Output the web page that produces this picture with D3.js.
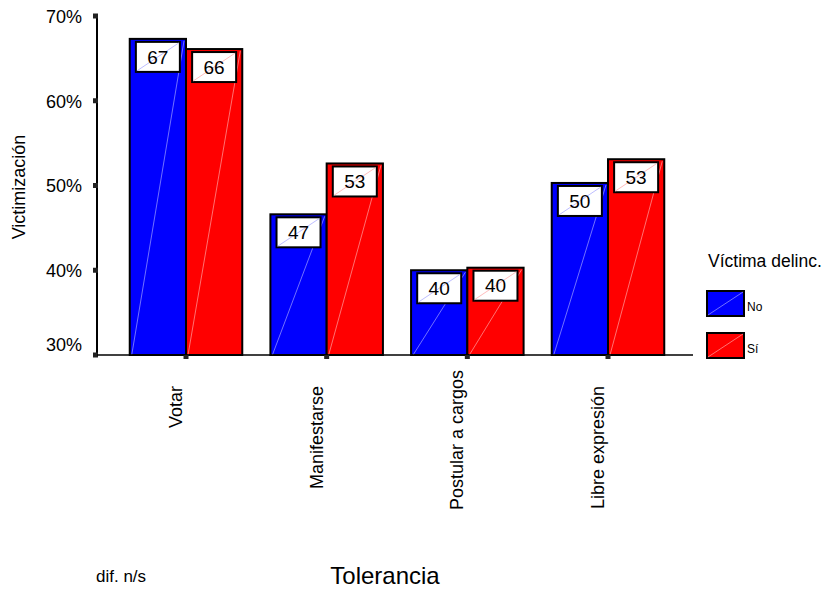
<!DOCTYPE html>
<html><head><meta charset="utf-8">
<script src="https://cdn.jsdelivr.net/npm/d3@7"></script>
<style>body{margin:0;background:#fff} svg text{font-family:"Liberation Sans",Arial,sans-serif;fill:#000}</style>
</head><body><svg id="c" width="828" height="590"></svg>
<script>
const categories = ["Votar", "Manifestarse", "Postular a cargos", "Libre expresión"];
const seriesNames = ["No", "Sí"];
const valuesNo = [67.3, 46.6, 40.0, 50.3];
const valuesSi = [66.1, 52.6, 40.3, 53.1];
const yTicks = [30, 40, 50, 60, 70];
const seriesColors = ["#0000ff", "#ff0000"];
const diagColors = ["#a0a0ff", "#ffa0a0"];
const yTitle = "Victimización";
const xTitle = "Tolerancia";
const legendTitle = "Víctima delinc.";
const note = "dif. n/s";

const svg = d3.select("#c");
const axisX = 97, baseY = 355, topY = 16, axisEnd = 693;

const x0 = d3.scaleBand().domain(categories).range([115.67, 678.33]).paddingInner(0.2).paddingOuter(0.1);
const x1 = d3.scaleBand().domain(seriesNames).range([0, x0.bandwidth()]);
const y = d3.scaleLinear().domain([30, 70]).range([baseY, topY]);
const color = d3.scaleOrdinal().domain(seriesNames).range(seriesColors);
const diag = d3.scaleOrdinal().domain(seriesNames).range(diagColors);

const data = categories.map((c, i) => ({cat: c, vals: [
  {s: "No", v: valuesNo[i]}, {s: "Sí", v: valuesSi[i]}]}));

// Y axis
const yAxis = d3.axisLeft(y).tickValues(yTicks).tickFormat(d => d + "%").tickSize(0).tickPadding(15);
const gy = svg.append("g").attr("transform", `translate(${axisX},0)`).call(yAxis);
gy.select(".domain").remove();
gy.selectAll("text").style("font-size", "18px").attr("x", -15)
  .attr("dy", d => d === yTicks[0] ? "-0.25em" : "0.35em");
svg.append("line").attr("x1", axisX).attr("x2", axisX).attr("y1", y(70)).attr("y2", baseY)
  .attr("stroke", "#000").attr("stroke-width", 2);
svg.selectAll(".ytick").data(yTicks).join("rect").attr("class", "ytick")
  .attr("x", axisX - 4).attr("y", d => y(d) - 2.5).attr("width", 5).attr("height", 5).attr("fill", "#222");

// bars
const groups = svg.selectAll(".grp").data(data).join("g").attr("class", "grp")
  .attr("transform", d => `translate(${x0(d.cat)},0)`);
groups.selectAll("rect.bar").data(d => d.vals).join("rect").attr("class", "bar")
  .attr("x", d => x1(d.s)).attr("y", d => y(d.v))
  .attr("width", x1.bandwidth()).attr("height", d => y(30) - y(d.v))
  .attr("fill", d => color(d.s)).attr("stroke", "#000").attr("stroke-width", 2);
groups.selectAll("line.bd").data(d => d.vals).join("line").attr("class", "bd")
  .attr("x1", d => x1(d.s) + 2).attr("y1", y(30))
  .attr("x2", d => x1(d.s) + x1.bandwidth() - 2).attr("y2", d => y(d.v) + 2)
  .attr("stroke", d => diag(d.s)).attr("stroke-width", 0.7);

// x axis
svg.append("line").attr("x1", axisX).attr("x2", axisEnd).attr("y1", baseY).attr("y2", baseY)
  .attr("stroke", "#000").attr("stroke-width", 1.5);
svg.selectAll(".xtick").data(categories).join("rect").attr("class", "xtick")
  .attr("x", d => x0(d) + x0.bandwidth() / 2 - 2.5).attr("y", baseY).attr("width", 5).attr("height", 4).attr("fill", "#222");

// value boxes
const bw = 44, bh = 30;
const boxes = groups.selectAll("g.box").data(d => d.vals).join("g").attr("class", "box")
  .attr("transform", d => `translate(${x1(d.s) + x1.bandwidth() / 2 - bw / 2},${y(d.v) + 3})`);
boxes.append("rect").attr("width", bw).attr("height", bh).attr("fill", "#fff")
  .attr("stroke", "#000").attr("stroke-width", 2);
boxes.append("line").attr("x1", 1).attr("y1", bh - 1).attr("x2", bw - 1).attr("y2", 1)
  .attr("stroke", d => diag(d.s)).attr("stroke-width", 0.7);
boxes.append("text").attr("x", bw / 2).attr("y", bh / 2).attr("dy", "0.35em")
  .attr("text-anchor", "middle").style("font-size", "19px").text(d => Math.round(d.v));

// x category labels (rotated)
const xl = svg.selectAll(".xl").data(categories).join("text").attr("class", "xl")
  .style("font-size", "18px").attr("text-anchor", "end").text(d => d);
xl.each(function(d) {
  const len = this.getComputedTextLength();
  const top = Math.min(386, 510 - len);
  const cx = x0(d) + x0.bandwidth() / 2 - 4;
  d3.select(this).attr("transform", `translate(${cx},${top}) rotate(-90)`);
});

// titles
svg.append("text").attr("transform", `translate(25,187) rotate(-90)`).attr("text-anchor", "middle")
  .style("font-size", "18px").text(yTitle);
svg.append("text").attr("x", 385).attr("y", 584).attr("text-anchor", "middle")
  .style("font-size", "24px").text(xTitle);
svg.append("text").attr("x", 96).attr("y", 582).style("font-size", "17px").text(note);

// legend
svg.append("text").attr("x", 708).attr("y", 267).style("font-size", "17.5px").text(legendTitle);
const lg = svg.selectAll(".lg").data(seriesNames).join("g").attr("class", "lg")
  .attr("transform", (d, i) => `translate(707,${291 + i * 42})`);
lg.append("rect").attr("width", 37).attr("height", 25).attr("fill", d => color(d))
  .attr("stroke", "#000").attr("stroke-width", 2);
lg.append("line").attr("x1", 1).attr("y1", 24).attr("x2", 36).attr("y2", 1)
  .attr("stroke", d => diag(d)).attr("stroke-width", 0.7);
lg.append("text").attr("x", 40).attr("y", 20).style("font-size", "12px").text(d => d);
</script></body></html>
